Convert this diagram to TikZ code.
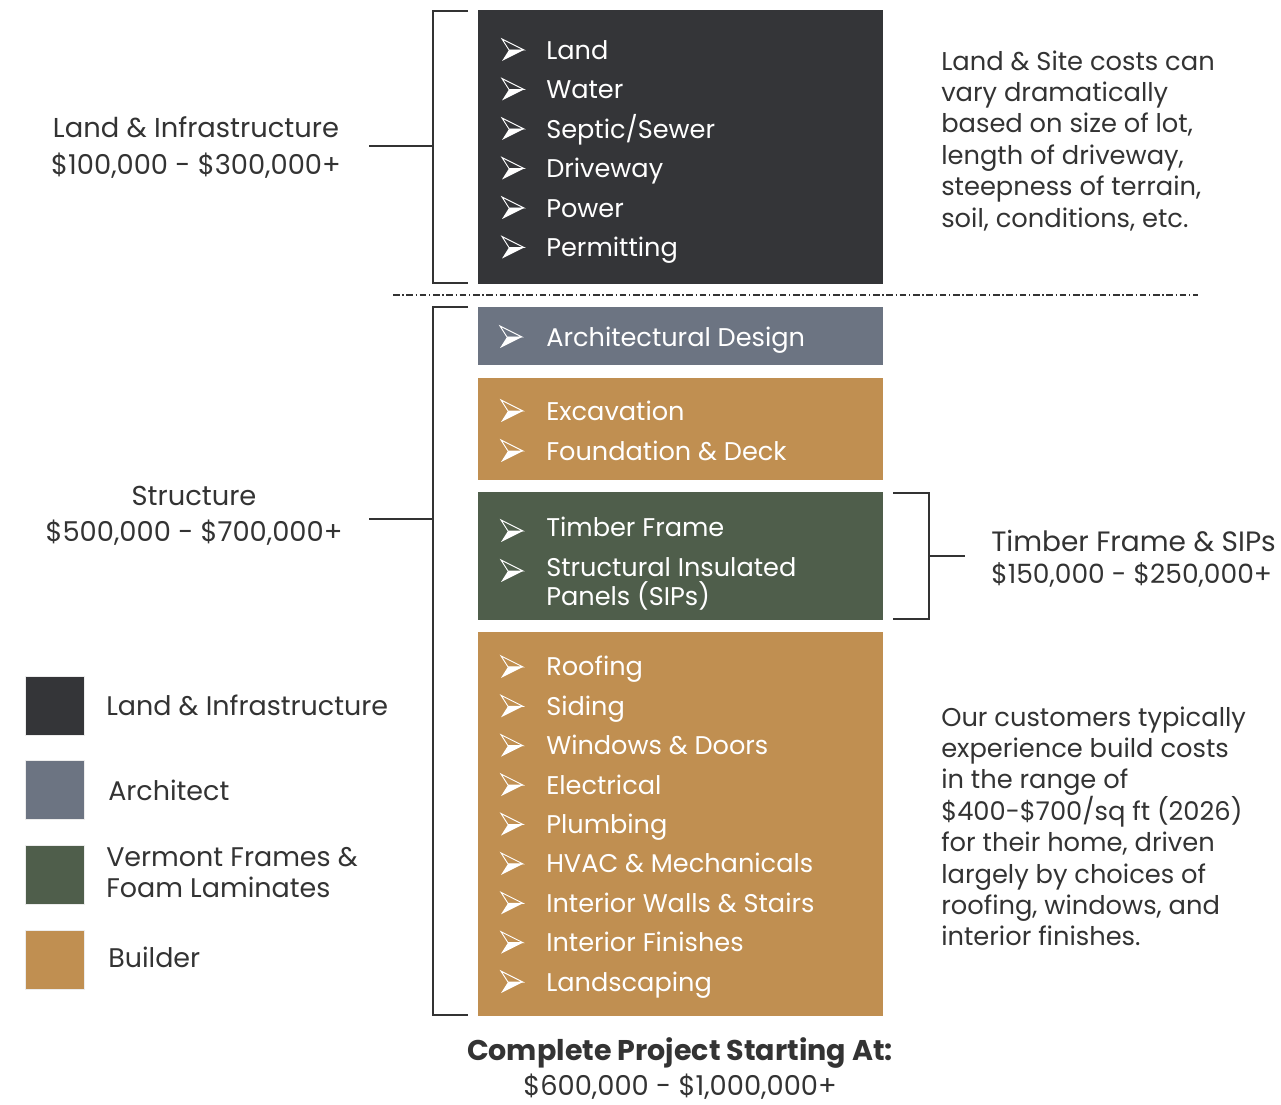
\documentclass[tikz,border=0pt]{standalone}
\usepackage{fontspec}
\setmainfont{Poppins}
\definecolor{landc}{HTML}{343538}
\definecolor{archc}{HTML}{6C7482}
\definecolor{timberc}{HTML}{4F5E4B}
\definecolor{buildc}{HTML}{C08F51}
\definecolor{ink}{HTML}{333333}
\begin{document}
\begin{tikzpicture}[x=0.75pt, y=-0.75pt, text=ink,
  box/.style = {anchor=north west, inner sep=0pt, minimum width=303.75pt},
  txt/.style = {inner sep=0pt, text height=13.6pt, text depth=0pt},
  item/.style = {txt, anchor=west, text=white, font=\fontsize{19.2}{22}\selectfont},
  lbl/.style = {txt, font=\fontsize{20.5}{22}\selectfont},
  side/.style = {txt, anchor=west, font=\fontsize{19.3}{22}\selectfont},
  keytext/.style = {txt, anchor=west, font=\fontsize{20.2}{22}\selectfont},
  key/.style = {draw=white!85!gray, minimum size=44.25pt, inner sep=0pt, anchor=north west},
  brk/.style = {line width=1.4pt, ink},
  arrowmark/.pic = {
    \draw[white, line width=0.7pt, line join=miter] (-11,-11) -- (11,0) -- (-4,0) -- cycle;
    \fill[white] (-11,11) -- (11,0) -- (-4,0) -- cycle;}]
\useasboundingbox (0,0) rectangle (1281,1105);

% boxes
\node[box, fill=landc, minimum height=205.5pt] (land) at (478,10) {};
\node[box, fill=archc, minimum height=43.5pt] (arch) at (478,307) {};
\node[box, fill=buildc, minimum height=76.5pt] (exc) at (478,378) {};
\node[box, fill=timberc, minimum height=96pt] (timber) at (478,492) {};
\node[box, fill=buildc, minimum height=288pt] (build) at (478,632) {};

% items
\foreach \t [count=\i] in {Land, Water, Septic/Sewer, Driveway, Power, Permitting} {
  \pic at (513,10.5+39.5*\i) {arrowmark};
  \node[item] (l\i) at (546,10.5+39.5*\i) {\t};
}
\pic at (511,337) {arrowmark};
\node[item] (a1) at (546,337) {Architectural Design};
\pic at (512,411) {arrowmark};
\node[item] (e1) at (546,411) {Excavation};
\pic at (512,451) {arrowmark};
\node[item] (e2) at (546,451) {Foundation \& Deck};
\pic at (512,531) {arrowmark};
\node[item] (t1) at (546,527) {Timber Frame};
\pic at (512,571) {arrowmark};
\node[item] (t2) at (546,567) {Structural Insulated};
\node[item] (t3) at (546,596) {Panels (SIPs)};
\foreach \t [count=\i] in {Roofing, Siding, Windows \& Doors, Electrical, Plumbing,
    HVAC \& Mechanicals, Interior Walls \& Stairs, Interior Finishes, Landscaping} {
  \pic at (512,627.5+39.4*\i) {arrowmark};
  \node[item] (b\i) at (546,627.5+39.4*\i) {\t};
}

% brackets
\draw[brk] (468,11) -- (433,11) -- (433,283) -- (468,283);
\draw[brk] (468,307) -- (433,307) -- (433,1015) -- (468,1015);
\draw[brk] (893,493) -- (929,493) -- (929,619) -- (893,619);
\coordinate (landbr) at (433,146);
\coordinate (landend) at (369,146);
\coordinate (strbr) at (433,519);
\coordinate (strend) at (369,519);
\coordinate (timbr) at (929,556);
\coordinate (timend) at (965,556);
\draw[brk] (landend) -- (landbr);
\draw[brk] (strend) -- (strbr);
\draw[brk] (timbr) -- (timend);

% divider
\draw[ink, line width=0.9pt, dash pattern=on 5pt off 2pt on 1pt off 2pt] (393,295) -- (1198,295);

% left labels
\node[lbl] (landname) at (196,128) {Land \& Infrastructure};
\node[lbl] (landcost) at (196,165) {\$100,000 - \$300,000+};
\node[lbl] (strname) at (194,496) {Structure};
\node[lbl] (strcost) at (194,532) {\$500,000 - \$700,000+};
\node[side, font=\fontsize{21}{22}\selectfont] (timname) at (991,542) {Timber Frame \& SIPs};
\node[side, font=\fontsize{19.9}{22}\selectfont] (timcost) at (991,574) {\$150,000 - \$250,000+};

% notes
\foreach \t [count=\i] in {Land \& Site costs can, vary dramatically, {based on size of lot,},
    {length of driveway,}, {steepness of terrain,}, {soil, conditions, etc.}} {
  \node[side] (n\i) at (941,29.6+31.4*\i) {\t};
}
\foreach \t [count=\i] in {Our customers typically, experience build costs, in the range of,
    \$400-\$700/sq ft (2026), {for their home, driven}, largely by choices of,
    {roofing, windows, and}, interior finishes.} {
  \node[side] (m\i) at (941,685.6+31.4*\i) {\t};
}

% legend
\node[key, fill=landc] (k1) at (25,676) {};
\node[key, fill=archc] (k2) at (25,760) {};
\node[key, fill=timberc] (k3) at (25,845) {};
\node[key, fill=buildc] (k4) at (25,930) {};
\node[keytext] (k1t) at (106,706) {Land \& Infrastructure};
\node[keytext] (k2t) at (108,791) {Architect};
\node[keytext] (k3t) at (106,857) {Vermont Frames \&};
\node[keytext] (k3u) at (106,888) {Foam Laminates};
\node[keytext] (k4t) at (108,958) {Builder};

% total
\node[lbl, font=\fontsize{21.4}{22}\selectfont\bfseries] (total) at (680,1051) {Complete Project Starting At:};
\node[lbl] (totalcost) at (680,1086) {\$600,000 - \$1,000,000+};
\end{tikzpicture}
\end{document}
